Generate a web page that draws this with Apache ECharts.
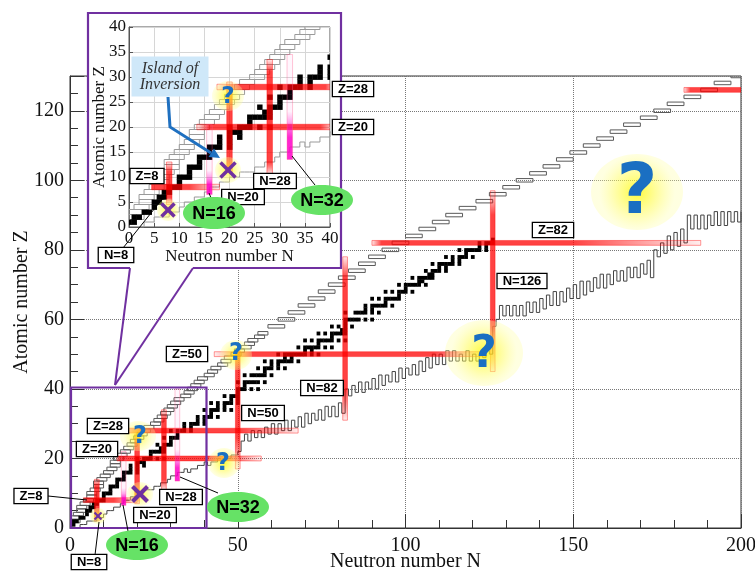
<!DOCTYPE html>
<html>
<head>
<meta charset="utf-8">
<script src="https://cdn.jsdelivr.net/npm/echarts@6/dist/echarts.min.js"></script>
<style>
  html, body { margin: 0; padding: 0; background: #fff; }
  #chart { width: 755px; height: 573px; }
</style>
</head>
<body>
<div id="chart"></div>
<script>
  // stable nuclei: neutron numbers for Z = 1 .. 83
  const stableN = [
    [0, 1], [1, 2], [3, 4], [5], [5, 6], [6, 7], [7, 8], [8, 9, 10], [10], [10, 11, 12],
    [12], [12, 13, 14], [14], [14, 15, 16], [16], [16, 17, 18, 20], [18, 20], [18, 20, 22], [20, 21, 22], [20, 22, 23, 24, 26, 28],
    [24], [24, 25, 26, 27, 28], [27, 28], [26, 28, 29, 30], [30], [28, 30, 31, 32], [32], [30, 32, 33, 34, 36], [34, 36], [34, 36, 37, 38, 40],
    [38, 40], [38, 40, 41, 42, 44], [42], [40, 42, 43, 44, 46, 48], [44, 46], [42, 44, 46, 47, 48, 50], [48, 50], [46, 48, 49, 50], [50], [50, 51, 52, 54, 56],
    [52], [50, 52, 53, 54, 55, 56, 58], [], [52, 54, 55, 56, 57, 58, 60], [58], [56, 58, 59, 60, 62, 64], [60, 62], [58, 60, 62, 63, 64, 65, 66, 68], [64, 66], [62, 64, 65, 66, 67, 68, 69, 70, 72, 74],
    [70, 72], [68, 70, 71, 72, 73, 74, 76, 78], [74], [70, 72, 74, 75, 76, 77, 78, 80, 82], [78], [74, 76, 78, 79, 80, 81, 82], [81, 82], [78, 80, 82, 84], [82], [82, 83, 84, 85, 86, 88, 90],
    [], [82, 85, 86, 87, 88, 90, 92], [88, 90], [88, 90, 91, 92, 93, 94, 96], [94], [90, 92, 94, 95, 96, 97, 98], [98], [94, 96, 98, 99, 100, 102], [100], [98, 100, 101, 102, 103, 104, 106],
    [104, 105], [102, 104, 105, 106, 107, 108], [107, 108], [106, 108, 109, 110, 112], [110, 112], [108, 110, 111, 112, 113, 114, 116], [114, 116], [112, 114, 116, 117, 118, 120], [118], [116, 118, 119, 120, 121, 122, 124],
    [122, 124], [122, 124, 125, 126], [126]
  ];

  // proton-rich edge: one row of cells per Z, from N0 to N1
  const pDripZ = [2, 3, 4, 5, 6, 7, 8, 9, 10, 11, 12, 13, 14, 15, 16, 17, 18, 19, 20, 21, 22, 23, 24, 25, 26, 27, 28, 29, 30, 31,
    32, 33, 34, 35, 36, 37, 38, 39, 40, 41, 42, 43, 44, 45, 46, 47, 48, 49, 50, 51, 52, 53, 54, 55, 56,
    58, 60, 62, 64, 66, 68, 70, 72, 74, 76, 78, 80, 82, 84, 86, 88, 90, 92, 94, 96, 98, 100, 102, 104, 106, 108,
    110, 112, 114, 116, 118, 120, 122, 124, 126, 128, 130];
  const pDripN0 = [0, 0, 1, 2, 2, 3, 4, 5, 5, 6, 7, 7, 8, 9, 10, 11, 12, 12, 13, 14, 15, 16, 17, 18, 19, 20, 21, 22, 24, 25,
    26, 27, 28, 29, 30, 31, 33, 34, 35, 36, 37, 38, 40, 41, 42, 44, 45, 46, 48, 49, 51, 52, 53, 55, 56,
    59, 62, 65, 68, 71, 74, 77, 80, 83, 86, 89, 93, 96, 100, 104, 108, 112, 116, 121, 125, 129, 133, 137, 141, 145, 149,
    153, 157, 161, 165, 170, 174, 178, 183, 188, 192, 197];
  const pDripN1 = [3, 3, 4, 5, 5, 6, 7, 8, 8, 9, 10, 10, 11, 12, 13, 14, 15, 15, 16, 17, 18, 19, 20, 21, 22, 23, 24, 25, 27, 28,
    29, 30, 31, 32, 33, 34, 36, 37, 38, 39, 40, 41, 43, 44, 45, 47, 48, 49, 51, 52, 54, 55, 56, 58, 59,
    64, 67, 70, 73, 76, 79, 82, 85, 88, 91, 94, 98, 101, 105, 109, 113, 117, 121, 126, 130, 134, 138, 142, 146, 150, 154,
    158, 162, 166, 170, 175, 179, 183, 188, 193, 197, 202];

  // neutron-rich edge: Z for N = 2 .. 200
  const nDripFirstN = 2;
  const nDripZ = [
    0, 1, 1, 2, 2, 2, 3, 3, 4, 5, 5, 6, 6, 7, 8, 8, 9, 9, 10, 10,
    11, 11, 11, 12, 12, 13, 13, 14, 15, 15, 16, 16, 17, 16, 17, 17, 18, 18, 19, 18,
    19, 19, 20, 19, 20, 20, 21, 21,
    22, 25, 27, 25, 28, 26, 28, 26, 29, 27, 30, 27, 30, 28, 31, 28, 31, 29, 32, 29,
    33, 30, 33, 31, 34, 31, 35, 32, 35, 32, 36, 33, 40, 38, 41, 39, 42, 39, 42, 40,
    43, 40, 44, 41, 44, 42, 45, 42, 46, 43, 46, 44, 47, 44, 48, 45, 49, 46, 50, 47,
    50, 47, 51, 48, 51, 48, 50, 48, 51, 48, 50, 48, 50, 49, 51, 50, 58, 60, 64, 61,
    64, 61, 64, 61, 64, 61, 65, 62, 65, 62, 66, 63, 67, 64, 68, 64, 68, 65, 69, 66,
    70, 66, 71, 67, 71, 68, 72, 69, 73, 69, 73, 70, 74, 71, 74, 71, 75, 72, 75, 72,
    76, 73, 77, 72, 80, 78, 82, 79, 84, 80, 85, 81, 86, 82, 90, 86, 90, 86, 90, 86,
    90, 87, 91, 87, 91, 87, 91, 88, 91, 88, 91
  ];

  // magic numbers in the main chart: [value, extent start, extent end, strong start, strong end]
  const magicZ = [8, 20, 28, 50, 82, 126];
  const magicZSpan = [[4, 20], [14, 57], [15, 68], [43, 124], [90, 188], [183, 203]];
  const magicZCore = [[5, 13], [15, 46], [21, 51], [54, 108], [93, 150], [185, 203]];
  const magicN = [8, 16, 20, 28, 32, 50, 82, 126];
  const magicNSpan = [[2, 14], [6.5, 22], [7, 27], [11, 34], [13.5, 40], [17, 51], [31, 78], [45, 97]];
  const magicNCore = [[4, 12], [6.5, 10], [9, 25], [14, 31], [13.5, 20], [26, 50], [40, 72], [58, 90]];
  const newMagicN = [16, 32];

  // magic numbers in the light-nuclei inset
  const insetMagicZ = [8, 20, 28];
  const insetMagicZSpan = [[4.5, 18], [13.5, 41], [17.5, 41]];
  const insetMagicZCore = [[4.5, 12], [16, 38], [22, 39]];
  const insetMagicN = [8, 16, 20, 28, 32];
  const insetMagicNSpan = [[4.5, 13], [6.5, 20.5], [11, 29], [10.5, 33.5], [13.5, 34.5]];
  const insetMagicNCore = [[6, 11], [6.5, 10], [12, 26], [13, 31], [13.5, 21]];

  const stableData = [];
  stableN.forEach((list, i) => list.forEach(n => stableData.push([n, i + 1])));
  const pDripData = pDripZ.map((z, i) => [pDripN0[i], pDripN1[i], z]);
  const nDripData = nDripZ.map((z, i) => [nDripFirstN + i, z]);
  const zip = (vals, span, core) => vals.map((v, i) => [v, span[i][0], span[i][1], core[i][0], core[i][1]]);

  const PURPLE = '#7030a0';
  const SERIF = '"Liberation Serif", "DejaVu Serif", serif';
  const SANS = '"Liberation Sans", Arial, sans-serif';

  function cellItem(params, api) {
    const a = api.coord([api.value(0) - 0.5, api.value(1) + 0.5]);
    const b = api.coord([api.value(0) + 0.5, api.value(1) - 0.5]);
    return {
      type: 'rect',
      shape: { x: a[0], y: a[1], width: b[0] - a[0] + 0.4, height: b[1] - a[1] + 0.4 },
      style: { fill: '#000' }
    };
  }

  function rowItem(color) {
    return function (params, api) {
      const a = api.coord([api.value(0), api.value(2) + 0.5]);
      const b = api.coord([api.value(1), api.value(2) - 0.5]);
      return {
        type: 'rect',
        shape: { x: a[0], y: a[1], width: b[0] - a[0], height: b[1] - a[1] },
        style: { fill: 'none', stroke: color, lineWidth: 1 }
      };
    };
  }

  function bandItem(horizontal, hw) {
    return function (params, api) {
      const v = api.value(0), s0 = api.value(1), s1 = api.value(2);
      const c0 = api.value(3), c1 = api.value(4);
      let a, b;
      if (horizontal) {
        a = api.coord([s0, v + hw]);
        b = api.coord([s1, v - hw]);
      } else {
        a = api.coord([v - hw, s1]);
        b = api.coord([v + hw, s0]);
      }
      const isNew = !horizontal && newMagicN.indexOf(v) >= 0;
      const rgb = isNew ? '255,0,200' : '255,0,0';
      const f0 = (c0 - s0) / (s1 - s0), f1 = (c1 - s0) / (s1 - s0);
      const stops = isNew ? [
        { offset: 0, color: 'rgba(' + rgb + ',0.85)' },
        { offset: f1 * 0.6, color: 'rgba(' + rgb + ',0.85)' },
        { offset: f1, color: 'rgba(' + rgb + ',0.35)' },
        { offset: Math.min(1, f1 + 0.1), color: 'rgba(' + rgb + ',0.05)' },
        { offset: 1, color: 'rgba(' + rgb + ',0.03)' }
      ] : [
        { offset: 0, color: 'rgba(' + rgb + ',0.06)' },
        { offset: f0, color: 'rgba(' + rgb + ',0.74)' },
        { offset: f1, color: 'rgba(' + rgb + ',0.74)' },
        { offset: 1, color: 'rgba(' + rgb + ',0.06)' }
      ];
      const grad = horizontal
        ? new echarts.graphic.LinearGradient(0, 0, 1, 0, stops)
        : new echarts.graphic.LinearGradient(0, 1, 0, 0, stops);
      return {
        type: 'rect',
        shape: { x: a[0], y: a[1], width: b[0] - a[0], height: b[1] - a[1] },
        style: { fill: grad, stroke: isNew ? 'rgba(255,90,140,0.35)' : 'rgba(255,0,0,0.4)', lineWidth: 1 }
      };
    };
  }

  // annotation helpers (pixel positions)
  function labelBox(text, x, y) {
    return {
      type: 'text', z: 40, x: x, y: y,
      style: {
        text: text, font: 'bold 13px ' + SANS, fill: '#000', align: 'center', verticalAlign: 'middle',
        backgroundColor: '#fff', borderColor: '#000', borderWidth: 1.3, padding: [1, 5, 0, 5]
      }
    };
  }
  function greenTag(text, cx, cy, rx, ry) {
    return [
      { type: 'ellipse', z: 40, shape: { cx: cx, cy: cy, rx: rx, ry: ry }, style: { fill: '#66e266' } },
      { type: 'text', z: 41, x: cx, y: cy + 1, style: { text: text, font: 'bold 18px ' + SANS, fill: '#000', align: 'center', verticalAlign: 'middle' } }
    ];
  }
  function glow(cx, cy, rx, ry) {
    return {
      type: 'ellipse', z: 35, shape: { cx: cx, cy: cy, rx: rx, ry: ry },
      style: {
        fill: new echarts.graphic.RadialGradient(0.5, 0.5, 0.5, [
          { offset: 0, color: 'rgba(255,250,0,0.78)' },
          { offset: 0.6, color: 'rgba(255,252,90,0.5)' },
          { offset: 1, color: 'rgba(255,255,160,0.32)' }
        ])
      }
    };
  }
  function question(cx, cy, size) {
    return {
      type: 'text', z: 36, x: cx, y: cy,
      style: { text: '?', font: 'bold ' + size + 'px "DejaVu Sans", sans-serif', fill: '#1a6fc2', align: 'center', verticalAlign: 'middle' }
    };
  }
  function cross(cx, cy, h, w) {
    return [
      { type: 'line', z: 37, shape: { x1: cx - h, y1: cy - h, x2: cx + h, y2: cy + h }, style: { stroke: PURPLE, lineWidth: w } },
      { type: 'line', z: 37, shape: { x1: cx - h, y1: cy + h, x2: cx + h, y2: cy - h }, style: { stroke: PURPLE, lineWidth: w } }
    ];
  }
  function leader(x1, y1, x2, y2) {
    return { type: 'line', z: 39, shape: { x1: x1, y1: y1, x2: x2, y2: y2 }, style: { stroke: '#000', lineWidth: 1 } };
  }

  const annotations = [
    // inset panel and pointer
    { type: 'rect', z: 5, shape: { x: 88, y: 13, width: 253, height: 255 }, style: { fill: '#fff' } },
    { type: 'polyline', z: 38, shape: { points: [[130, 268], [88, 268], [88, 13], [341, 13], [341, 268], [193, 268]] }, style: { stroke: PURPLE, lineWidth: 2.2, fill: 'none' } },
    { type: 'line', z: 38, shape: { x1: 130, y1: 268, x2: 115, y2: 385 }, style: { stroke: PURPLE, lineWidth: 2 } },
    { type: 'line', z: 38, shape: { x1: 193, y1: 268, x2: 115, y2: 385 }, style: { stroke: PURPLE, lineWidth: 2 } },
    { type: 'rect', z: 38, shape: { x: 71, y: 387.5, width: 135.5, height: 140.5 }, style: { stroke: PURPLE, lineWidth: 2.2, fill: 'none' } },

    // main chart question marks
    glow(637, 192, 46, 38), question(637, 195, 70),
    glow(484, 353, 39, 33), question(484, 356, 44),
    glow(236, 355, 16, 15), question(236, 354, 24),
    glow(138, 436, 18, 15), question(140, 437, 24),
    glow(224, 463, 16, 15), question(223, 464, 24),
    glow(140, 494, 13, 12), glow(98, 516, 8, 8),
    ...cross(140, 494, 7.5, 4), ...cross(98, 516, 3.5, 2.2),

    // main chart labels
    leader(48, 496, 87, 500), labelBox('Z=8', 31, 496),
    leader(95, 555, 99, 522), labelBox('N=8', 89, 562),
    labelBox('Z=20', 97, 449), labelBox('Z=28', 108, 426),
    labelBox('N=20', 155, 515), labelBox('N=28', 181, 497),
    labelBox('N=50', 263, 413), labelBox('N=82', 322, 388),
    labelBox('Z=50', 187, 354), labelBox('Z=82', 553, 230),
    labelBox('N=126', 522, 281),
    leader(123, 505, 128, 531), ...greenTag('N=16', 137, 545, 31, 15),
    leader(180, 477, 218, 493), ...greenTag('N=32', 238, 507, 31, 15),

    // inset annotations
    { type: 'rect', z: 40, shape: { x: 131.5, y: 56.5, width: 77, height: 40 }, style: { fill: '#cfe8f9' } },
    { type: 'text', z: 41, x: 170, y: 69, style: { text: 'Island of', font: 'italic 16px ' + SERIF, fill: '#333', align: 'center', verticalAlign: 'middle' } },
    { type: 'text', z: 41, x: 170, y: 85, style: { text: 'Inversion', font: 'italic 16px ' + SERIF, fill: '#333', align: 'center', verticalAlign: 'middle' } },
    { type: 'polyline', z: 41, shape: { points: [[168, 97], [170, 127], [211, 153]] }, style: { stroke: '#1f70c0', lineWidth: 3, fill: 'none' } },
    { type: 'polygon', z: 41, shape: { points: [[220, 158], [208.5, 157], [214, 148.5]] }, style: { fill: '#1f70c0' } },
    glow(228, 96, 16, 15), question(228, 97, 23),
    glow(168, 210, 11, 11), glow(228, 170, 13, 13),
    ...cross(168, 210, 6.5, 3.5), ...cross(228, 170, 7.5, 3.5),
    labelBox('Z=8', 147, 176),
    leader(123, 248, 163, 198), labelBox('N=8', 116, 255),
    labelBox('N=20', 243, 197), labelBox('N=28', 275, 181),
    labelBox('Z=28', 353, 89), labelBox('Z=20', 353, 127),
    leader(209, 193, 213, 203), ...greenTag('N=16', 214, 213, 31, 16),
    leader(292, 156, 315, 185), ...greenTag('N=32', 322, 200, 31, 15)
  ];

  const chart = echarts.init(document.getElementById('chart'));

  const axisText = { fontFamily: SERIF, fontSize: 20, color: '#111' };
  const insetText = { fontFamily: SERIF, fontSize: 17, color: '#111' };

  const option = {
    animation: false,
    backgroundColor: '#fff',
    grid: [
      { left: 70, right: 14, top: 76, bottom: 45, show: true, borderColor: '#333', borderWidth: 1, backgroundColor: 'transparent', outerBoundsMode: 'none' },
      { left: 129, right: 425, top: 27, bottom: 346, show: true, borderColor: '#555', borderWidth: 1, backgroundColor: '#fff', z: 6, outerBoundsMode: 'none' }
    ],
    xAxis: [
      {
        gridIndex: 0, type: 'value', min: 0, max: 200, interval: 50,
        name: 'Neutron number N', nameLocation: 'middle', nameGap: 24, nameMoveOverlap: false,
        nameTextStyle: axisText,
        axisLine: { show: true, lineStyle: { color: '#333' } },
        axisTick: { show: true, inside: true, length: 14, lineStyle: { color: '#333' } },
        minorTick: { show: true, splitNumber: 5, length: 8, lineStyle: { color: '#333' } },
        axisLabel: Object.assign({ margin: 8 }, axisText),
        splitLine: { show: true, lineStyle: { color: '#777', type: 'dotted', width: 1 } }
      },
      {
        gridIndex: 1, type: 'value', min: 0, max: 40, interval: 5, z: 6,
        name: 'Neutron number N', nameLocation: 'middle', nameGap: 21, nameMoveOverlap: false,
        nameTextStyle: insetText,
        axisLine: { show: true, lineStyle: { color: '#555' } },
        axisTick: { show: true, inside: true, length: 4, lineStyle: { color: '#555' } },
        axisLabel: Object.assign({ margin: 3 }, insetText),
        splitLine: { show: true, lineStyle: { color: '#d6d6d6', width: 1 } }
      }
    ],
    yAxis: [
      {
        gridIndex: 0, type: 'value', position: 'left', min: 0, max: 130, interval: 20,
        name: 'Atomic number Z', nameLocation: 'middle', nameGap: 38, nameMoveOverlap: false,
        nameTextStyle: axisText,
        axisLine: { show: true, lineStyle: { color: '#333' } },
        axisTick: { show: true, inside: true, length: 14, lineStyle: { color: '#333' } },
        axisLabel: Object.assign({ margin: 6, formatter: v => (v % 20 === 0 ? String(v) : '') }, axisText),
        splitLine: { show: true, lineStyle: { color: '#777', type: 'dotted', width: 1 } }
      },
      {
        gridIndex: 1, type: 'value', min: 0, max: 40, interval: 5, z: 6,
        name: 'Atomic number Z', nameLocation: 'middle', nameGap: 21, nameMoveOverlap: false,
        nameTextStyle: insetText,
        axisLine: { show: true, lineStyle: { color: '#555' } },
        axisTick: { show: true, inside: true, length: 4, lineStyle: { color: '#555' } },
        axisLabel: Object.assign({ margin: 3 }, insetText),
        splitLine: { show: true, lineStyle: { color: '#d6d6d6', width: 1 } }
      },
      {
        // finer ticks every 5 on the main Z axis
        gridIndex: 0, type: 'value', position: 'left', min: 0, max: 130, interval: 5,
        axisLine: { show: false },
        axisTick: { show: true, inside: true, length: 8, lineStyle: { color: '#333' } },
        axisLabel: { show: false },
        splitLine: { show: false }
      }
    ],
    graphic: { elements: annotations },
    series: [
      { type: 'custom', xAxisIndex: 0, yAxisIndex: 0, z: 2, clip: true, silent: true, renderItem: rowItem('#5a5a5a'), data: pDripData },
      { type: 'line', xAxisIndex: 0, yAxisIndex: 0, z: 2, step: 'end', symbol: 'none', silent: true, lineStyle: { color: '#444', width: 1 }, data: nDripData },
      { type: 'custom', xAxisIndex: 0, yAxisIndex: 0, z: 3, clip: true, silent: true, renderItem: cellItem, data: stableData },
      { type: 'custom', xAxisIndex: 0, yAxisIndex: 0, z: 4, clip: true, silent: true, renderItem: bandItem(true, 0.7), data: zip(magicZ, magicZSpan, magicZCore) },
      { type: 'custom', xAxisIndex: 0, yAxisIndex: 0, z: 4, clip: true, silent: true, renderItem: bandItem(false, 0.7), data: zip(magicN, magicNSpan, magicNCore) },

      { type: 'custom', xAxisIndex: 1, yAxisIndex: 1, z: 7, clip: true, silent: true, renderItem: rowItem('#9a9a9a'), data: pDripData },
      { type: 'line', xAxisIndex: 1, yAxisIndex: 1, z: 7, step: 'end', symbol: 'none', silent: true, lineStyle: { color: '#9a9a9a', width: 1 }, data: nDripData },
      { type: 'custom', xAxisIndex: 1, yAxisIndex: 1, z: 8, clip: true, silent: true, renderItem: cellItem, data: stableData },
      { type: 'custom', xAxisIndex: 1, yAxisIndex: 1, z: 9, clip: true, silent: true, renderItem: bandItem(true, 0.55), data: zip(insetMagicZ, insetMagicZSpan, insetMagicZCore) },
      { type: 'custom', xAxisIndex: 1, yAxisIndex: 1, z: 9, clip: true, silent: true, renderItem: bandItem(false, 0.55), data: zip(insetMagicN, insetMagicNSpan, insetMagicNCore) }
    ]
  };

  chart.setOption(option);
</script>
</body>
</html>
